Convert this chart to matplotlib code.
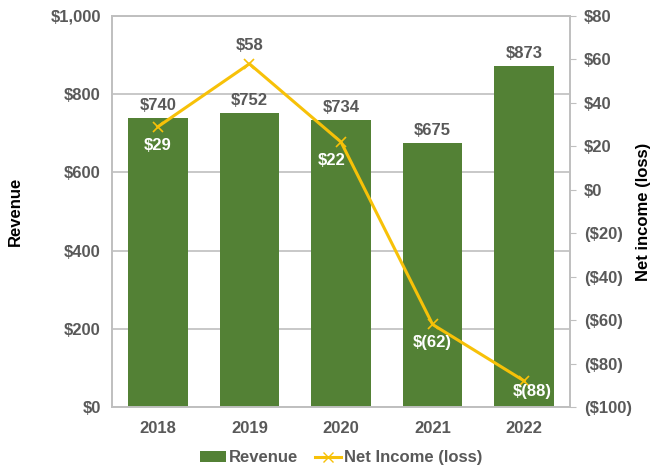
import matplotlib
matplotlib.use("Agg")
import matplotlib.pyplot as plt
from matplotlib.ticker import FuncFormatter
from matplotlib.lines import Line2D
from matplotlib.patches import Patch

years = ["2018", "2019", "2020", "2021", "2022"]
revenue = [740, 752, 734, 675, 873]
net_income = [29, 58, 22, -62, -88]
income_labels = ["$29", "$58", "$22", "$(62)", "$(88)"]

GREEN = "#538135"
GOLD = "#F7C108"
GRAY = "#595959"

plt.rcParams["font.family"] = ["Liberation Sans", "DejaVu Sans"]
plt.rcParams["font.weight"] = "bold"
plt.rcParams["font.size"] = 12

fig = plt.figure(figsize=(6.59, 4.71), dpi=100)
ax = fig.add_axes([112 / 659, 1 - 407 / 471, (570 - 112) / 659, (407 - 16) / 471])
ax2 = ax.twinx()

x = list(range(len(years)))
ax.bar(x, revenue, width=0.65, color=GREEN, zorder=2)
ax.set_ylim(0, 1000)
ax.set_xlim(-0.5, 4.5)
ax.set_yticks(range(0, 1001, 200))
ax.yaxis.set_major_formatter(FuncFormatter(lambda v, p: f"${v:,.0f}"))
ax.grid(axis="y", color="#BFBFBF", linewidth=1.2, zorder=0)
ax.set_axisbelow(True)
ax.set_xticks(x)
ax.set_xticklabels(years)
ax.tick_params(axis="both", length=0, colors=GRAY, labelsize=12, pad=8)
ax.tick_params(axis="x", pad=10)
ax.set_ylabel("Revenue", color="black", fontsize=12, fontweight="bold", labelpad=20)

for s in ["top", "right", "left", "bottom"]:
    ax.spines[s].set_color("#BFBFBF")
    ax.spines[s].set_linewidth(1.2)
    ax2.spines[s].set_color("#BFBFBF")
    ax2.spines[s].set_linewidth(1.2)

for xi, r in zip(x, revenue):
    ax.text(xi, r + 12, f"${r}", ha="center", va="bottom", color=GRAY,
            fontsize=12, fontweight="bold")

ax2.plot(x, net_income, color=GOLD, linewidth=2.2, marker="x",
         markersize=7, markeredgewidth=1.2, zorder=3)
ax2.set_ylim(-100, 80)
ax2.set_yticks(range(-100, 81, 20))
ax2.yaxis.set_major_formatter(
    FuncFormatter(lambda v, p: f"${v:.0f}" if v >= 0 else f"(${-v:.0f})"))
ax2.tick_params(axis="y", length=4, color="#BFBFBF", colors=GRAY,
                labelsize=12, pad=6)
ax2.set_ylabel("Net income (loss)", color="black", fontsize=12,
               fontweight="bold", labelpad=3)

offsets = [(0, -5, "center", "top", "white"),
           (0, 5, "center", "bottom", GRAY),
           (-0.1, -5, "center", "top", "white"),
           (0, -5, "center", "top", "white"),
           (0.09, -1.5, "center", "top", "white")]
for xi, v, lab, (dx, dy, ha, va, c) in zip(x, net_income, income_labels, offsets):
    ax2.text(xi + dx, v + dy, lab, ha=ha, va=va, color=c, fontsize=12,
             fontweight="bold", zorder=4)

handles = [Patch(facecolor=GREEN, label="Revenue"),
           Line2D([], [], color=GOLD, linewidth=2.2, marker="x",
                  markersize=7, label="Net Income (loss)")]
leg = fig.legend(handles=handles, loc="lower center", ncol=2,
                 bbox_to_anchor=(0.5 * (112 + 570) / 659, -0.02), frameon=False,
                 fontsize=12, handlelength=1.6, handletextpad=0.15,
                 columnspacing=1.0)
for t in leg.get_texts():
    t.set_color(GRAY)

fig.savefig("out.png", dpi=100)
